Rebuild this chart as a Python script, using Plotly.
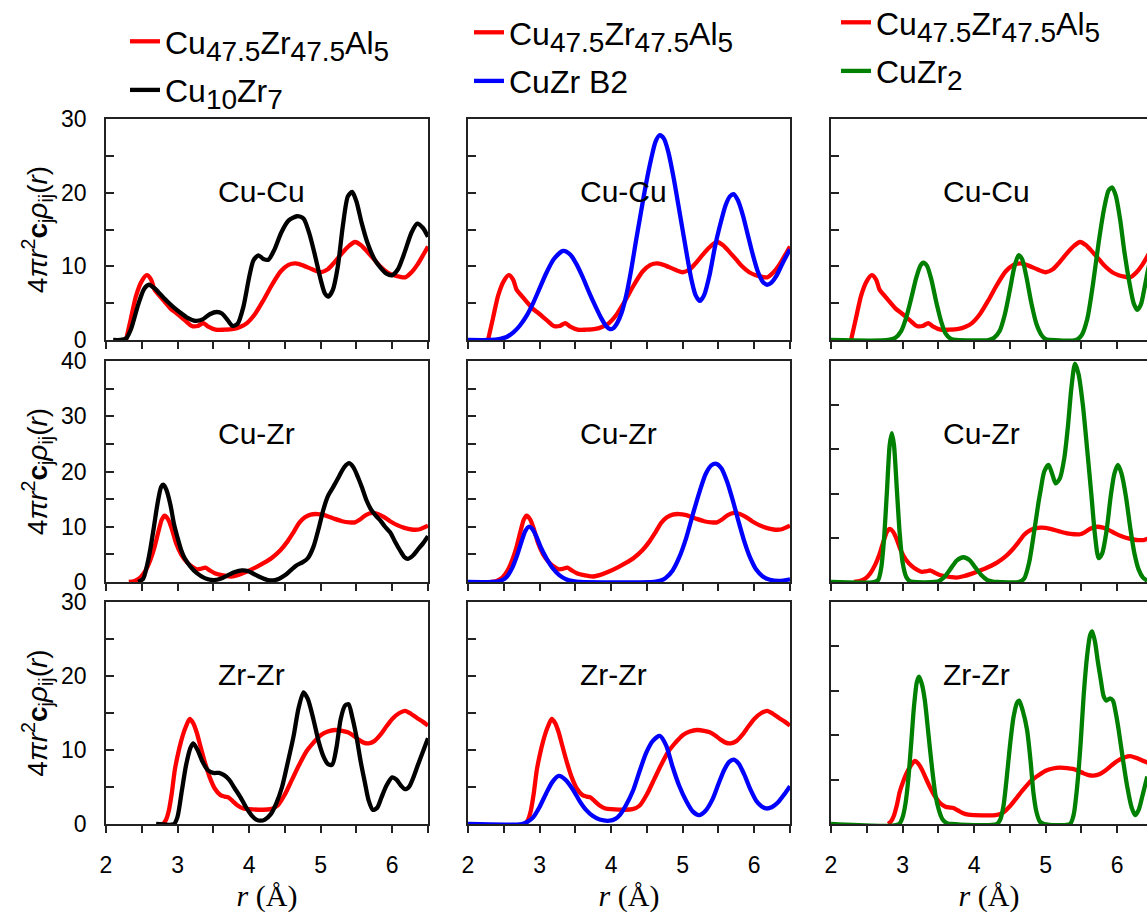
import plotly.graph_objects as go

# ---------------- data ----------------
# Row 1: Cu-Cu
red_cucu_x = [2.28, 2.35, 2.42, 2.5, 2.57, 2.63, 2.68, 2.75, 2.8, 2.9, 2.99, 3.1, 3.2, 3.28, 3.36, 3.43, 3.53, 3.65, 3.78, 3.88, 3.97, 4.08, 4.2, 4.32, 4.44, 4.55, 4.65, 4.76, 4.88, 5.0, 5.1, 5.18, 5.3, 5.4, 5.48, 5.56, 5.65, 5.75, 5.83, 5.93, 6.02, 6.1, 6.18, 6.27, 6.35, 6.43, 6.5]
red_cucu_y = [0, 3.0, 6.0, 8.0, 8.8, 8.2, 6.8, 6.0, 5.4, 4.3, 3.6, 2.7, 1.9, 1.9, 2.3, 1.8, 1.4, 1.4, 1.5, 1.8, 2.3, 3.5, 5.4, 7.5, 9.3, 10.2, 10.4, 10.1, 9.6, 9.2, 9.6, 10.4, 11.8, 12.8, 13.3, 12.9, 12.0, 10.9, 10.0, 9.2, 8.8, 8.6, 8.5, 9.2, 10.2, 11.5, 12.7]

cu10zr7_cucu_x = [2.1, 2.2, 2.28, 2.35, 2.45, 2.53, 2.6, 2.68, 2.76, 2.85, 2.95, 3.04, 3.14, 3.25, 3.35, 3.45, 3.55, 3.62, 3.7, 3.77, 3.84, 3.92, 4.0, 4.06, 4.13, 4.2, 4.27, 4.35, 4.45, 4.55, 4.67, 4.76, 4.84, 4.92, 5.0, 5.06, 5.11, 5.17, 5.24, 5.31, 5.38, 5.44, 5.5, 5.57, 5.65, 5.75, 5.83, 5.92, 6.0, 6.08, 6.17, 6.27, 6.35, 6.43, 6.5]
cu10zr7_cucu_y = [0, 0, 0.2, 1.5, 4.8, 6.9, 7.5, 7.0, 6.2, 5.3, 4.4, 3.7, 3.0, 2.6, 2.8, 3.5, 3.8, 3.6, 2.7, 1.9, 2.2, 4.5, 8.5, 10.8, 11.5, 11.0, 10.9, 12.2, 14.6, 16.2, 16.8, 16.5, 14.5, 11.5, 8.2, 6.3, 5.9, 6.8, 10.0, 15.5, 19.5, 20.1, 18.8, 16.0, 13.3, 11.0, 9.9, 9.0, 8.8, 9.6, 11.8, 14.6, 15.8, 15.2, 14.0]

b2_cucu_x = [2.0, 2.3, 2.45, 2.54, 2.63, 2.72, 2.82, 2.91, 3.0, 3.09, 3.2, 3.33, 3.43, 3.51, 3.6, 3.7, 3.78, 3.86, 3.93, 3.98, 4.03, 4.09, 4.15, 4.21, 4.28, 4.35, 4.42, 4.49, 4.56, 4.62, 4.68, 4.74, 4.8, 4.87, 4.94, 5.0, 5.06, 5.12, 5.18, 5.24, 5.3, 5.38, 5.45, 5.52, 5.6, 5.66, 5.71, 5.77, 5.84, 5.91, 5.98, 6.05, 6.12, 6.18, 6.24, 6.31, 6.4, 6.5]
b2_cucu_y = [0, 0, 0.15, 0.4, 1.0, 1.9, 3.3, 5.0, 7.0, 9.0, 11.0, 12.1, 11.6, 10.4, 8.6, 6.3, 4.6, 3.0, 1.9, 1.5, 1.6, 2.4, 3.8, 6.0, 9.5, 13.6, 17.5, 21.3, 24.6, 26.9, 27.8, 27.3, 25.5, 22.2, 18.3, 14.9, 11.5, 8.3, 6.1, 5.3, 6.1, 9.0, 12.6, 15.5, 18.3, 19.5, 19.8, 19.0, 17.0, 14.3, 11.6, 9.3, 7.9, 7.5, 7.8, 8.7, 10.5, 12.3]

cuzr2_cucu_x = [2.0, 2.8, 2.9, 2.98, 3.05, 3.12, 3.19, 3.25, 3.29, 3.34, 3.4, 3.47, 3.54, 3.6, 3.67, 3.75, 4.2, 4.28, 4.36, 4.43, 4.5, 4.56, 4.62, 4.67, 4.73, 4.8, 4.87, 4.94, 5.0, 5.06, 5.42, 5.5, 5.58, 5.66, 5.74, 5.82, 5.88, 5.93, 5.98, 6.04, 6.1, 6.17, 6.23, 6.28, 6.33, 6.38, 6.43, 6.5]
cuzr2_cucu_y = [0, 0, 0.3, 1.2, 3.0, 5.6, 8.4, 10.1, 10.5, 10.1, 8.3, 5.2, 2.5, 0.9, 0.2, 0, 0, 0.3, 1.3, 3.5, 6.8, 9.8, 11.5, 11.0, 8.6, 5.0, 2.2, 0.7, 0.1, 0, 0, 0.6, 2.8, 7.5, 13.2, 18.0, 20.3, 20.7, 19.6, 16.4, 12.0, 7.8, 5.0, 4.1, 4.8, 7.0, 9.5, 12.5]

# Row 2: Cu-Zr
red_cuzr_x = [2.32, 2.4, 2.48, 2.55, 2.62, 2.68, 2.73, 2.78, 2.82, 2.87, 2.92, 2.98, 3.05, 3.13, 3.2, 3.27, 3.33, 3.39, 3.45, 3.52, 3.6, 3.68, 3.75, 3.85, 3.97, 4.1, 4.2, 4.32, 4.44, 4.54, 4.62, 4.7, 4.78, 4.86, 4.95, 5.05, 5.18, 5.3, 5.4, 5.48, 5.55, 5.63, 5.72, 5.8, 5.88, 5.97, 6.07, 6.17, 6.27, 6.37, 6.45, 6.5]
red_cuzr_y = [0, 0.2, 0.8, 2.0, 4.0, 6.4, 9.0, 11.3, 12.0, 11.3, 9.6, 7.0, 5.0, 3.6, 2.8, 2.3, 2.4, 2.6, 2.1, 1.6, 1.3, 1.1, 1.0, 1.3, 1.9, 2.7, 3.4, 4.4, 5.8, 7.4, 9.0, 10.7, 11.7, 12.2, 12.3, 12.1, 11.5, 11.0, 10.8, 10.8, 11.3, 12.1, 12.5, 12.3, 11.8, 11.0, 10.3, 9.8, 9.5, 9.5, 9.9, 10.2]

cu10zr7_cuzr_x = [2.45, 2.52, 2.57, 2.62, 2.67, 2.72, 2.77, 2.8, 2.84, 2.9, 2.95, 3.0, 3.05, 3.1, 3.18, 3.27, 3.38, 3.5, 3.6, 3.7, 3.8, 3.9, 3.98, 4.06, 4.15, 4.25, 4.34, 4.42, 4.5, 4.58, 4.66, 4.75, 4.82, 4.9, 4.97, 5.04, 5.1, 5.18, 5.26, 5.33, 5.4, 5.46, 5.52, 5.58, 5.64, 5.7, 5.77, 5.83, 5.9, 5.97, 6.04, 6.11, 6.17, 6.22, 6.29, 6.36, 6.43, 6.5]
cu10zr7_cuzr_y = [0, 0.6, 2.8, 6.0, 10.0, 14.2, 17.2, 17.6, 16.8, 14.0, 10.5, 8.0, 5.8, 4.3, 2.8, 1.6, 0.7, 0.35, 0.6, 1.2, 1.8, 2.1, 2.0, 1.5, 0.9, 0.4, 0.3, 0.6, 1.2, 2.1, 3.0, 3.6, 4.3, 6.4, 9.6, 13.2, 15.5, 17.3, 19.2, 20.8, 21.5, 20.7, 19.0, 17.0, 14.8, 13.2, 12.0, 11.2, 10.0, 9.0, 7.3, 5.7, 4.5, 4.2, 4.8, 5.9, 7.0, 8.3]

b2_cuzr_x = [2.0, 2.35, 2.45, 2.54, 2.62, 2.68, 2.74, 2.8, 2.85, 2.9, 2.96, 3.02, 3.1, 3.19, 3.28, 3.37, 3.47, 3.56, 4.6, 4.68, 4.76, 4.86, 4.95, 5.05, 5.15, 5.24, 5.32, 5.4, 5.47, 5.54, 5.62, 5.7, 5.78, 5.86, 5.94, 6.03, 6.12, 6.22, 6.35, 6.5]
b2_cuzr_y = [0, 0, 0.2, 0.9, 2.6, 4.6, 7.0, 9.2, 10.0, 9.6, 8.1, 6.2, 4.2, 2.4, 1.2, 0.5, 0.15, 0, 0, 0.2, 0.7, 2.1, 4.4, 8.0, 12.6, 16.5, 19.5, 21.1, 21.4, 20.6, 18.2, 14.8, 11.0, 7.4, 4.5, 2.2, 1.0, 0.4, 0.2, 0.5]

cuzr2_cuzr_x = [2.0, 2.6, 2.66, 2.7, 2.74, 2.78, 2.82, 2.85, 2.88, 2.92, 2.96, 3.0, 3.05, 3.1, 3.15, 3.45, 3.52, 3.6, 3.68, 3.76, 3.85, 3.94, 4.02, 4.1, 4.18, 4.26, 4.32, 4.62, 4.7, 4.77, 4.84, 4.9, 4.93, 4.98, 5.04, 5.09, 5.14, 5.2, 5.26, 5.31, 5.36, 5.41, 5.46, 5.52, 5.58, 5.64, 5.69, 5.74, 5.79, 5.85, 5.91, 5.96, 6.01, 6.06, 6.12, 6.18, 6.24, 6.3, 6.36, 6.42]
cuzr2_cuzr_y = [0, 0, 0.5, 3.0, 9.5, 20.0, 31.0, 33.7, 31.0, 21.0, 11.0, 4.5, 1.2, 0.2, 0, 0, 0.3, 1.4, 3.2, 4.9, 5.6, 4.9, 3.2, 1.6, 0.5, 0.1, 0, 0, 0.8, 4.5, 11.5, 18.0, 20.8, 25.0, 26.5, 24.5, 22.3, 23.5, 28.0, 35.0, 44.0, 49.4, 47.0, 40.0, 30.0, 19.5, 10.5, 5.4, 6.5, 11.5, 19.5, 24.5, 26.5, 24.5, 19.5, 12.5, 6.5, 2.8, 1.0, 0.3]

# Row 3: Zr-Zr
red_zrzr_x = [2.8, 2.84, 2.88, 2.92, 2.96, 3.0, 3.05, 3.11, 3.17, 3.22, 3.27, 3.32, 3.38, 3.45, 3.52, 3.6, 3.66, 3.71, 3.77, 3.84, 3.92, 4.0, 4.3, 4.4, 4.5, 4.6, 4.7, 4.8, 4.9, 5.0, 5.1, 5.2, 5.3, 5.38, 5.45, 5.53, 5.6, 5.67, 5.75, 5.83, 5.92, 6.0, 6.1, 6.18, 6.26, 6.35, 6.43, 6.5]
red_zrzr_y = [0, 0.6, 1.9, 4.2, 7.2, 9.2, 11.2, 13.0, 14.2, 13.6, 12.3, 10.5, 8.4, 6.3, 4.8, 3.9, 3.7, 3.6, 3.1, 2.5, 2.1, 2.0, 2.0, 2.5, 4.0, 6.0, 8.0, 9.8, 11.0, 12.0, 12.5, 12.7, 12.6, 12.4, 12.0, 11.4, 11.0, 10.9, 11.2, 12.0, 13.2, 14.2, 15.0, 15.3, 14.9, 14.3, 13.8, 13.3]

cu10zr7_zrzr_x = [2.7, 2.95, 3.0, 3.06, 3.12, 3.18, 3.22, 3.28, 3.35, 3.42, 3.5, 3.58, 3.65, 3.72, 3.8, 3.88, 3.96, 4.04, 4.1, 4.16, 4.22, 4.3, 4.38, 4.46, 4.54, 4.62, 4.69, 4.76, 4.82, 4.9, 4.97, 5.04, 5.1, 5.16, 5.22, 5.28, 5.34, 5.39, 5.44, 5.5, 5.56, 5.62, 5.67, 5.73, 5.79, 5.85, 5.92, 6.0, 6.06, 6.12, 6.18, 6.24, 6.3, 6.36, 6.43, 6.5]
cu10zr7_zrzr_y = [0, 0, 1.0, 4.5, 8.0, 10.3, 10.9, 10.0, 8.4, 7.3, 6.9, 6.9, 6.6, 6.0, 4.8, 3.6, 2.2, 1.1, 0.6, 0.45, 0.6, 1.3, 2.8, 5.0, 8.3, 11.8, 15.6, 17.8, 16.9, 14.1, 11.2, 9.1, 8.1, 8.0, 10.3, 14.2, 16.0, 16.2, 14.5, 11.8, 8.4, 5.5, 3.2, 1.9, 2.2, 3.6, 5.2, 6.3, 6.0, 5.2, 4.7, 5.1, 6.4, 8.0, 9.8, 11.6]

b2_zrzr_x = [2.0, 2.75, 2.83, 2.91, 3.0, 3.09, 3.18, 3.27, 3.36, 3.47, 3.56, 3.65, 3.74, 3.84, 3.98, 4.06, 4.12, 4.2, 4.31, 4.4, 4.49, 4.58, 4.68, 4.77, 4.86, 4.95, 5.05, 5.14, 5.23, 5.32, 5.42, 5.5, 5.58, 5.65, 5.71, 5.78, 5.86, 5.95, 6.03, 6.1, 6.17, 6.25, 6.33, 6.42, 6.5]
b2_zrzr_y = [0, 0, 0.3, 0.9, 2.3, 4.1, 5.7, 6.5, 6.0, 4.6, 3.1, 1.9, 1.1, 0.6, 0.45, 0.7, 1.2, 2.4, 4.6, 7.2, 9.6, 11.2, 11.9, 10.6, 7.7, 5.2, 3.1, 1.7, 1.2, 1.8, 3.4, 5.4, 7.3, 8.4, 8.7, 8.2, 6.7, 4.6, 3.1, 2.4, 2.1, 2.3, 2.9, 4.0, 5.1]

cuzr2_zrzr_x = [2.0, 2.95, 3.0, 3.04, 3.08, 3.12, 3.16, 3.2, 3.23, 3.27, 3.31, 3.36, 3.41, 3.46, 3.51, 3.56, 3.62, 3.68, 4.32, 4.37, 4.41, 4.45, 4.5, 4.55, 4.6, 4.63, 4.68, 4.74, 4.79, 4.83, 4.87, 4.92, 4.98, 5.34, 5.39, 5.44, 5.49, 5.53, 5.58, 5.62, 5.65, 5.69, 5.73, 5.77, 5.81, 5.85, 5.9, 5.94, 5.98, 6.02, 6.08, 6.14, 6.2, 6.25, 6.3, 6.35, 6.42]
cuzr2_zrzr_y = [0, 0, 1.5, 4.5, 10.0, 18.0, 26.5, 32.0, 33.2, 31.5, 28.0, 20.5, 12.9, 6.5, 3.0, 1.0, 0.2, 0, 0, 1.2, 4.0, 9.5, 17.5, 24.0, 27.3, 27.8, 25.5, 21.2, 14.0, 6.9, 2.8, 0.5, 0, 0, 2.0, 8.4, 18.5, 28.7, 38.0, 42.5, 43.4, 41.0, 36.5, 32.5, 28.8, 27.8, 28.3, 27.8, 25.0, 21.2, 14.5, 8.4, 3.8, 2.0, 3.2, 6.2, 10.7]

panel_labels = ["Cu-Cu", "Cu-Zr", "Zr-Zr"]
SUB = "<sub><span style='font-size:28px'>%s</span></sub>"
legend_names = ["Cu" + SUB % "47.5" + "Zr" + SUB % "47.5" + "Al" + SUB % "5",
                "Cu" + SUB % "10" + "Zr" + SUB % "7",
                "CuZr B2",
                "CuZr" + SUB % "2"]
y_ranges = [[[0, 30], [0, 30], [0, 30]],
            [[0, 40], [0, 40], [0, 50]],
            [[0, 30], [0, 30], [0, 50]]]

# ---------------- figure ----------------
W, H = 1147, 913
RED, BLACK, BLUE, GREEN = "#ff0000", "#000000", "#0000ff", "#008000"
LW = 4.3
AX = "#222222"

red_rows = [(red_cucu_x, red_cucu_y), (red_cuzr_x, red_cuzr_y), (red_zrzr_x, red_zrzr_y)]
other = [
    [(cu10zr7_cucu_x, cu10zr7_cucu_y, BLACK), (b2_cucu_x, b2_cucu_y, BLUE), (cuzr2_cucu_x, cuzr2_cucu_y, GREEN)],
    [(cu10zr7_cuzr_x, cu10zr7_cuzr_y, BLACK), (b2_cuzr_x, b2_cuzr_y, BLUE), (cuzr2_cuzr_x, cuzr2_cuzr_y, GREEN)],
    [(cu10zr7_zrzr_x, cu10zr7_zrzr_y, BLACK), (b2_zrzr_x, b2_zrzr_y, BLUE), (cuzr2_zrzr_x, cuzr2_zrzr_y, GREEN)],
]
other_names = [legend_names[1], legend_names[2], legend_names[3]]
legend_ids = ["legend", "legend2", "legend3"]
label_x = [4.18, 4.11, 4.04]

col_px = [(106, 428), (468, 790), (831, 1147)]
row_px = [(119, 340), (361, 582), (602, 824)]
px_per_unit = (428 - 106) / 4.5

fig = go.Figure()
layout = {}
annotations = []

ytitle = "4<i>πr</i><sup>2</sup><b>c</b><sub>j</sub><i>ρ</i><sub>ij</sub>(<i>r</i>)"

for r in range(3):
    for c in range(3):
        idx = r * 3 + c + 1
        sx = "" if idx == 1 else str(idx)
        xa, ya = "x" + sx, "y" + sx
        rx, ry = red_rows[r]
        fig.add_trace(go.Scatter(x=rx, y=ry, xaxis=xa, yaxis=ya, mode="lines",
                                 line=dict(color=RED, width=LW, shape="spline", smoothing=0.7),
                                 name=legend_names[0], legend=legend_ids[c],
                                 legendgroup="red%d" % c, showlegend=(r == 0)))
        ox, oy, ocol = other[r][c]
        fig.add_trace(go.Scatter(x=ox, y=oy, xaxis=xa, yaxis=ya, mode="lines",
                                 line=dict(color=ocol, width=LW, shape="spline", smoothing=0.7),
                                 name=other_names[c], legend=legend_ids[c],
                                 legendgroup="oth%d" % c, showlegend=(r == 0)))
        x0, x1 = col_px[c]
        y0, y1 = row_px[r]
        xmax = 2 + (x1 - x0) / px_per_unit
        xaxis = dict(
            domain=[x0 / W, x1 / W], range=[2, xmax], anchor=ya,
            tick0=2, dtick=1, showticklabels=(r == 2),
            ticks="outside", ticklen=7, tickwidth=1.5, tickcolor=AX,
            minor=dict(ticks="outside", ticklen=7, tickwidth=1.5, tickcolor=AX, dtick=0.5, tick0=2),
            showline=True, linecolor=AX, linewidth=1.5, mirror=True,
            showgrid=False, zeroline=False, ticklabelstandoff=13,
            tickfont=dict(family="Liberation Sans", size=23, color="black"),
        )
        if r == 2:
            xaxis["title"] = dict(text="<i>r</i> (Å)",
                                  font=dict(family="Liberation Serif", size=30, color="black"),
                                  standoff=8)
        layout["xaxis" + sx] = xaxis
        ymax = y_ranges[r][c][1]
        yaxis = dict(
            domain=[1 - y1 / H, 1 - y0 / H], range=y_ranges[r][c], anchor=xa,
            tick0=0, dtick=10, showticklabels=(c == 0),
            ticks="inside", ticklen=8, tickwidth=1.5, tickcolor=AX,
            showline=True, linecolor=AX, linewidth=1.5, mirror=(c != 2),
            showgrid=False, zeroline=False, ticklabelstandoff=13,
            tickfont=dict(family="Liberation Sans", size=23, color="black"),
        )
        if ymax <= 40:
            yaxis["minor"] = dict(ticks="inside", ticklen=8, tickwidth=1.5, tickcolor=AX, dtick=5, tick0=0)
        if c == 0:
            yaxis["title"] = dict(text=ytitle,
                                  font=dict(family="Liberation Sans", size=28, color="black"),
                                  standoff=5)
        layout["yaxis" + sx] = yaxis
        annotations.append(dict(text=panel_labels[r], xref=xa, yref=ya,
                                x=label_x[r], y=ymax * 0.674, showarrow=False,
                                font=dict(family="Liberation Sans", size=30, color="black")))

legend_common = dict(font=dict(family="Liberation Sans", size=32, color="black"),
                     bgcolor="rgba(0,0,0,0)", xanchor="left", yanchor="top",
                     tracegroupgap=4, itemwidth=30)
layout["legend"] = dict(legend_common, x=125 / W, y=1 - 14 / H)
layout["legend2"] = dict(legend_common, x=469 / W, y=1 - 5 / H)
layout["legend3"] = dict(legend_common, x=836 / W, y=1 + 5 / H)

fig.update_layout(**layout)
fig.update_layout(width=W, height=H,
                  margin=dict(l=0, r=0, t=0, b=0, pad=0, autoexpand=False),
                  paper_bgcolor="white", plot_bgcolor="white",
                  annotations=annotations, showlegend=True)

fig.write_html("out.html", config={"displayModeBar": False},
               post_script="document.body.style.margin='0';")
